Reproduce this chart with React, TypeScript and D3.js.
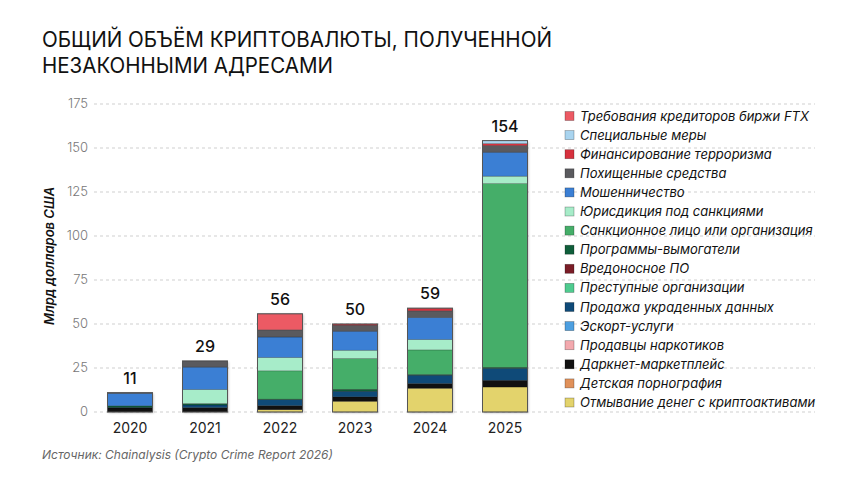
import React from "react";
import * as d3 from "d3";

const years = ["2020", "2021", "2022", "2023", "2024", "2025"];
const totals = [11, 29, 56, 50, 59, 154];
const yTicks = [0, 25, 50, 75, 100, 125, 150, 175];

// stack order: bottom -> top
const categories = [
  "Отмывание денег с криптоактивами",
  "Детская порнография",
  "Даркнет-маркетплейс",
  "Продавцы наркотиков",
  "Эскорт-услуги",
  "Продажа украденных данных",
  "Преступные организации",
  "Вредоносное ПО",
  "Программы-вымогатели",
  "Санкционное лицо или организация",
  "Юрисдикция под санкциями",
  "Мошенничество",
  "Похищенные средства",
  "Финансирование терроризма",
  "Специальные меры",
  "Требования кредиторов биржи FTX",
];
const colors = [
  "#e3d36c",
  "#e0915a",
  "#111111",
  "#f3a9ae",
  "#4d9fe0",
  "#0f4a78",
  "#4fcb8f",
  "#7a1d27",
  "#0f5e3a",
  "#45ae69",
  "#a7ecc9",
  "#3b7fd4",
  "#5a5a5e",
  "#d7313e",
  "#a9d4ef",
  "#ec5a64",
];

const laundering = [0, 0, 1.3, 6.1, 13.5, 14.2];
const csam = [0, 0, 0, 0, 0, 0];
const darknet = [2.3, 2.5, 2.3, 2.5, 2.7, 3.8];
const drugs = [0, 0, 0, 0, 0, 0];
const escort = [0, 0, 0, 0, 0, 0];
const stolenData = [0.3, 1.5, 3.4, 3.2, 4.7, 6.8];
const criminalOrgs = [0, 0, 0, 0, 0, 0];
const malware = [0, 0, 0, 0, 0, 0];
const ransomware = [0.9, 0.8, 0.3, 1.1, 0.4, 0.6];
const sanctionedEntity = [0, 0, 16.1, 17.5, 14.0, 104.4];
const sanctionedJurisdiction = [0, 8, 7.6, 4.7, 5.9, 4.2];
const scam = [7.1, 12.7, 11.6, 10.8, 12.5, 13.6];
const stolenFunds = [0.4, 3.5, 4.1, 3.4, 3.8, 3.8];
const terrorism = [0, 0, 0, 0.7, 1.5, 1.1];
const specialMeasures = [0, 0, 0, 0, 0, 1.7];
const ftxClaims = [0, 0, 9.1, 0, 0, 0];

const seriesValues = [
  laundering,
  csam,
  darknet,
  drugs,
  escort,
  stolenData,
  criminalOrgs,
  malware,
  ransomware,
  sanctionedEntity,
  sanctionedJurisdiction,
  scam,
  stolenFunds,
  terrorism,
  specialMeasures,
  ftxClaims,
];

const FONT = "Inter, 'Open Sans', sans-serif";

export default function App() {
  const W = 860;
  const H = 484;
  const x = d3
    .scaleBand<string>()
    .domain(years)
    .range([92.5, 542.5])
    .paddingInner(0.4)
    .paddingOuter(0.2);
  const y = d3.scaleLinear().domain([0, 175]).range([412, 104]);

  const table = years.map((yr, i) => {
    const row: any = { year: yr };
    categories.forEach((c, k) => (row[c] = seriesValues[k][i]));
    return row;
  });
  const stacked = d3.stack<any>().keys(categories)(table);

  const legendOrder = categories.map((c, i) => ({ c, col: colors[i] })).reverse();

  return (
    <svg width={W} height={H} style={{ display: "block", position: "absolute", left: 0, top: 0 }}>
      <defs>
        <filter id="sh" x="-20%" y="-20%" width="140%" height="140%">
          <feDropShadow dx="1" dy="1" stdDeviation="1" floodColor="#000" floodOpacity="0.25" />
        </filter>
      </defs>
      <rect width={W} height={H} fill="#fff" />
      <text x={42} y={47} fontFamily={FONT} fontSize={21} fontWeight={400} fill="#111" textLength={510} lengthAdjust="spacingAndGlyphs">
        ОБЩИЙ ОБЪЁМ КРИПТОВАЛЮТЫ, ПОЛУЧЕННОЙ
      </text>
      <text x={42} y={73} fontFamily={FONT} fontSize={21} fontWeight={400} fill="#111" textLength={291} lengthAdjust="spacingAndGlyphs">
        НЕЗАКОННЫМИ АДРЕСАМИ
      </text>

      {yTicks.map((t) => (
        <g key={t}>
          <line x1={94} x2={815} y1={y(t)} y2={y(t)} stroke="#cfcfcf" strokeWidth={1} strokeDasharray="3,3" />
          <text x={88} y={y(t) + 4} textAnchor="end" fontFamily={FONT} fontSize={13} fontWeight={300} fill="#777">
            {t}
          </text>
        </g>
      ))}

      <text
        transform={`translate(54,256) rotate(-90)`}
        textAnchor="middle"
        fontFamily={FONT}
        fontSize={13}
        fontStyle="italic"
        fontWeight={600}
        fill="#111"
      >
        Млрд долларов США
      </text>

      {years.map((yr, i) => (
        <rect
          key={"s" + yr}
          x={x(yr)!}
          y={y(totals[i])}
          width={x.bandwidth()}
          height={y(0) - y(totals[i])}
          fill="#fff"
          filter="url(#sh)"
        />
      ))}

      {stacked.map((s, k) => (
        <g key={s.key} fill={colors[k]}>
          {s.map((d, i) =>
            d[1] - d[0] > 0 ? (
              <rect
                key={i}
                x={x(years[i])!}
                y={y(d[1])}
                width={x.bandwidth()}
                height={y(d[0]) - y(d[1])}
                stroke="rgba(0,0,0,0.35)"
                strokeWidth={0.6}
              />
            ) : null
          )}
        </g>
      ))}

      {years.map((yr, i) => {
        const top = d3.sum(seriesValues, (s) => s[i]);
        return (
          <g key={"l" + yr}>
            <rect
              x={x(yr)!}
              y={y(top)}
              width={x.bandwidth()}
              height={y(0) - y(top)}
              fill="none"
              stroke="#555"
              strokeWidth={1}
            />
            <text
              x={x(yr)! + x.bandwidth() / 2}
              y={y(top) - 9}
              textAnchor="middle"
              fontFamily={FONT}
              fontSize={16}
              fontWeight={500}
              fill="#111"
            >
              {totals[i]}
            </text>
            <text
              x={x(yr)! + x.bandwidth() / 2}
              y={433}
              textAnchor="middle"
              fontFamily={FONT}
              fontSize={14}
              fill="#222"
            >
              {yr}
            </text>
          </g>
        );
      })}

      {legendOrder.map((d, i) => {
        const cy = 116 + i * 19.1;
        return (
          <g key={d.c}>
            <rect x={565} y={cy - 4.5} width={9} height={9} fill={d.col} stroke="rgba(0,0,0,0.35)" strokeWidth={0.7} />
            <text x={580} y={cy + 4.5} fontFamily={FONT} fontSize={13} fontStyle="italic" fill="#111">
              {d.c}
            </text>
          </g>
        );
      })}

      <text x={42} y={459} fontFamily={FONT} fontSize={12} fontStyle="italic" fill="#666">
        Источник: Chainalysis (Crypto Crime Report 2026)
      </text>
    </svg>
  );
}
